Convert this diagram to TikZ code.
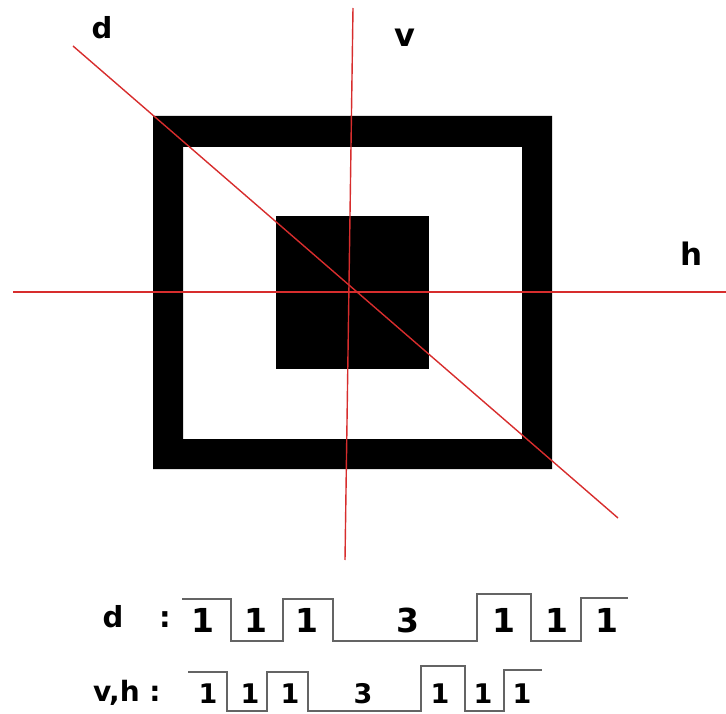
\documentclass[tikz,border=0pt]{standalone}
\usepackage{fontspec}
\setmainfont{DejaVu Sans}
\begin{document}
\begin{tikzpicture}[x=1pt,y=-1pt,
  redline/.style={draw={rgb,255:red,215;green,45;blue,45},line width=1.4pt},
  axislabel/.style={font=\bfseries\fontsize{29}{31}\selectfont,inner sep=0pt},
  digit/.style={font=\bfseries\fontsize{#1}{#1}\selectfont,inner sep=0pt,anchor=base},
  wave/.style={draw={rgb,255:red,100;green,100;blue,100},line width=1.8pt}]
\useasboundingbox (0,0) rectangle (726,714);
% outer frame
\fill[black,even odd rule] (153,116) rectangle (552,469) (183,147) rectangle (522,439);
% inner square
\fill[black] (276,216) rectangle (429,369);
% red lines
\draw[redline] (13,292) -- (726,292);
\draw[redline] (353,8) -- (345,560);
\draw[redline] (73,46) -- (618,518);
% axis labels
\node[axislabel] (ld) at (102,28) {d};
\node[axislabel,font=\bfseries\fontsize{32}{34}\selectfont] (lv) at (405,38) {v};
\node[axislabel,font=\bfseries\fontsize{31}{33}\selectfont] (lh) at (692,254) {h};
% d waveform
\draw[wave] (182,599) -- (231,599) -- (231,641) -- (283,641) -- (283,599) -- (333,599) -- (333,641)
  -- (477,641) -- (477,594) -- (531,594) -- (531,641) -- (581,641) -- (581,598) -- (628,598);
\node[digit=29] (dl) at (113,627) {d};
\node[digit=29] (dc) at (165,627) {:};
\foreach \x/\t [count=\i] in {203/1,256/1,307/1,408/3,504/1,557/1,607/1}
  \node[digit=33] (d\i) at (\x,632) {\t};
% v,h waveform
\draw[wave] (188,672) -- (227,672) -- (227,711) -- (267,711) -- (267,672) -- (308,672) -- (308,711)
  -- (421,711) -- (421,666) -- (465,666) -- (465,711) -- (504,711) -- (504,670) -- (542,670);
\node[digit=28,anchor=base west] (vl) at (93,701) {v,h :};
\foreach \x/\t [count=\i] in {208/1,250/1,290/1,363/3,440/1,483/1,522/1}
  \node[digit=27] (v\i) at (\x,703) {\t};
\end{tikzpicture}
\end{document}
